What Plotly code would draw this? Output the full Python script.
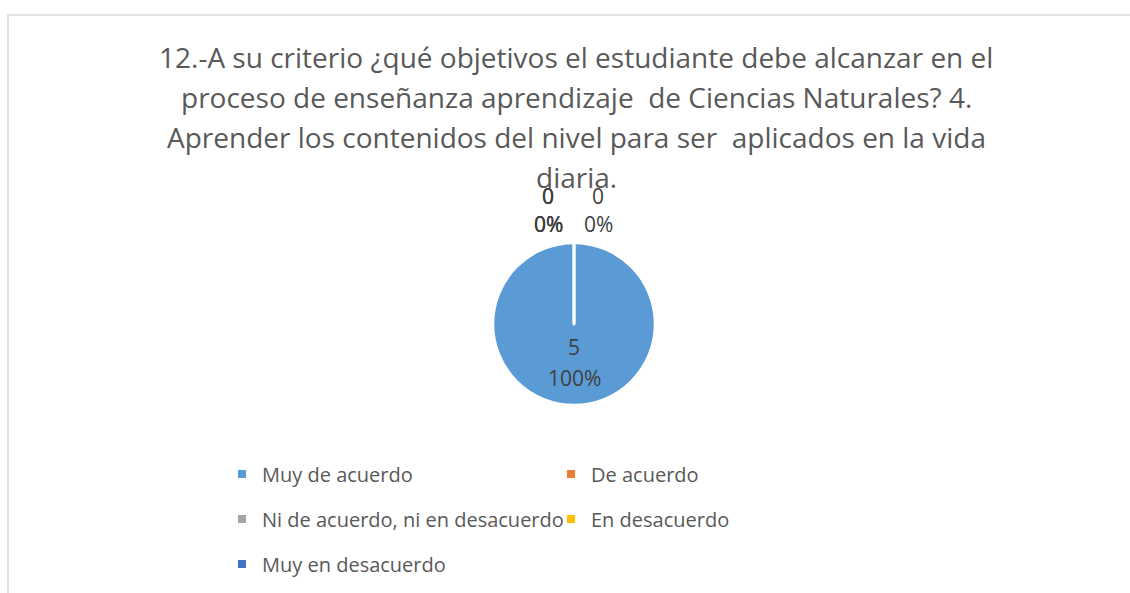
import plotly.graph_objects as go

# Survey answers for item 12.4
categories = ["Muy de acuerdo", "De acuerdo", "Ni de acuerdo, ni en desacuerdo",
              "En desacuerdo", "Muy en desacuerdo"]
counts = [5, 0, 0, 0, 0]
colors = ["#5b9bd5", "#ed7d31", "#a5a5a5", "#ffc000", "#4472c4"]

title_lines = [
    "12.-A su criterio ¿qué objetivos el estudiante debe alcanzar en el",
    "proceso de enseñanza aprendizaje  de Ciencias Naturales? 4.",
    "Aprender los contenidos del nivel para ser  aplicados en la vida",
    "diaria.",
]

W, H = 1130, 593
ML, MR, MT, MB = 215, 215, 0, 0
PW, PH = W - ML - MR, H - MT - MB


def px_x(x):
    return (x - ML) / PW


def px_y(y):
    return (H - MB - y) / PH


FONT = "Open Sans"
total = sum(counts)
pcts = [round(100 * c / total) for c in counts]

fig = go.Figure()

# pie: centre (574, 324), radius 81 px
cx, cy, r = 574, 324, 81
fig.add_trace(go.Pie(
    labels=categories, values=counts, sort=False, direction="clockwise",
    marker=dict(colors=colors, line=dict(color="white", width=2.5)),
    textinfo="none", hoverinfo="label+value+percent", showlegend=False,
    domain=dict(x=[px_x(cx - r), px_x(cx + r)], y=[px_y(cy + r), px_y(cy - r)]),
))

# legend entries, one legend per row
rows = [[0, 1], [2, 3], [4]]
row_y = [474, 519, 564]
legend_names = ["legend", "legend2", "legend3"]
for ri, idxs in enumerate(rows):
    for i in idxs:
        fig.add_trace(go.Scatter(
            x=[None], y=[None], mode="markers", name=categories[i],
            marker=dict(symbol="square", size=8, color=colors[i]),
            legend=legend_names[ri], showlegend=True,
        ))

legend_common = dict(
    orientation="h", xanchor="left", yanchor="middle",
    font=dict(family=FONT, size=20, color="#595959"),
    bgcolor="rgba(0,0,0,0)", entrywidth=284, entrywidthmode="pixels",
    itemclick=False, itemdoubleclick=False,
)
layout_legends = {}
for ri, name in enumerate(legend_names):
    layout_legends[name] = dict(legend_common, x=px_x(222), y=px_y(row_y[ri]))

annotations = []
# title lines
for k, line in enumerate(title_lines):
    annotations.append(dict(
        text=line, x=px_x(576), y=px_y(57 + 40 * k), xref="paper", yref="paper",
        xanchor="center", yanchor="middle", showarrow=False,
        font=dict(family=FONT, size=28, color="#595959"),
    ))

# data labels: value on one line, percentage below
label_pos = {0: (574, 347), 1: (598, 196), 2: (548, 196), 3: (548, 196), 4: (548, 196)}
for i, (c, p) in enumerate(zip(counts, pcts)):
    lx, ly = label_pos[i]
    gap = 31 if c else 28
    for t, yy in ((str(c), ly), (f"{p}%", ly + gap)):
        annotations.append(dict(
            text=t, x=px_x(lx), y=px_y(yy), xref="paper", yref="paper",
            xanchor="center", yanchor="middle", showarrow=False,
            font=dict(family=FONT, size=21, color="#404040"),
        ))

fig.update_layout(
    width=W, height=H, margin=dict(l=ML, r=MR, t=MT, b=MB),
    paper_bgcolor="white", plot_bgcolor="white",
    xaxis=dict(visible=False), yaxis=dict(visible=False),
    annotations=annotations,
    shapes=[dict(type="rect", xref="paper", yref="paper",
                 x0=px_x(8), y0=px_y(15), x1=px_x(W + 20), y1=px_y(H + 20),
                 line=dict(color="#d9d9d9", width=1.5), layer="below")],
    **layout_legends,
)

fig.write_html("out.html")
